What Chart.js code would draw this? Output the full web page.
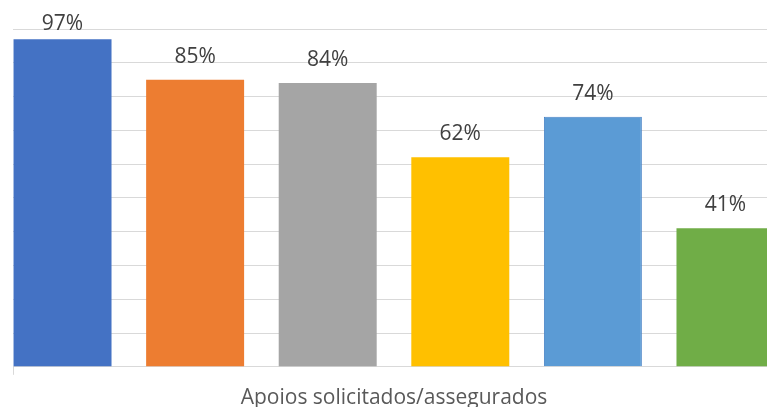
<!DOCTYPE html>
<html>
<head>
<meta charset="utf-8">
<script src="https://cdn.jsdelivr.net/npm/chart.js@4"></script>
<style>
html,body{margin:0;padding:0;background:#fff;overflow:hidden;width:767px;height:407px;}
canvas{display:block;}
</style>
</head>
<body>
<canvas id="c" width="790" height="422" style="width:790px;height:422px"></canvas>
<script>
const categories = ["Apoios solicitados/assegurados"];
const seriesValues = [97, 85, 84, 62, 74, 41];
const seriesColors = ["#4472C4", "#ED7D31", "#A5A5A5", "#FFC000", "#5B9BD5", "#70AD47"];
const seriesBorders = ["#4472C4", "#ED7D31", "#A5A5A5", "#FFC000", "#4A84C6", "#70AD47"];
const yTicks = [0, 100, 10]; // min, max, step

const labelPlugin = {
  id: 'valueLabels',
  afterDatasetsDraw(chart) {
    const ctx = chart.ctx;
    ctx.save();
    ctx.font = '21px "Open Sans"';
    ctx.fillStyle = '#404040';
    ctx.textAlign = 'center';
    ctx.textBaseline = 'alphabetic';
    chart.data.datasets.forEach((ds, i) => {
      const meta = chart.getDatasetMeta(i);
      meta.data.forEach((el, j) => {
        const yb = Math.max(el.y - 17, chart.chartArea.top + 1);
        ctx.fillText(ds.data[j] + '%', el.x, yb);
      });
    });
    ctx.restore();
  }
};

new Chart(document.getElementById('c'), {
  type: 'bar',
  data: {
    labels: categories,
    datasets: seriesValues.map((v, i) => ({
      label: 'S' + (i + 1),
      data: [v],
      backgroundColor: seriesColors[i],
      borderColor: seriesBorders[i],
      borderWidth: i === 4 ? 1 : 0,
      categoryPercentage: 1.044,
      barPercentage: 0.739,
      clip: false
    }))
  },
  options: {
    responsive: false,
    devicePixelRatio: 1,
    animation: false,
    layout: { padding: { left: 13, right: 15, top: 29, bottom: 0 } },
    plugins: { legend: { display: false }, tooltip: { enabled: false } },
    scales: {
      x: {
        offset: true,
        grid: { display: true, drawOnChartArea: false, drawTicks: true, tickLength: 8, color: '#d9d9d9', offset: true },
        border: { display: true, color: '#d9d9d9', width: 1 },
        ticks: { color: '#595959', font: { family: '"Open Sans"', size: 21 }, padding: 11 }
      },
      y: {
        min: yTicks[0], max: yTicks[1],
        ticks: { display: false, stepSize: yTicks[2] },
        grid: { color: '#d9d9d9', drawTicks: false, lineWidth: 1 },
        border: { display: false }
      }
    }
  },
  plugins: [labelPlugin]
});
</script>
</body>
</html>
